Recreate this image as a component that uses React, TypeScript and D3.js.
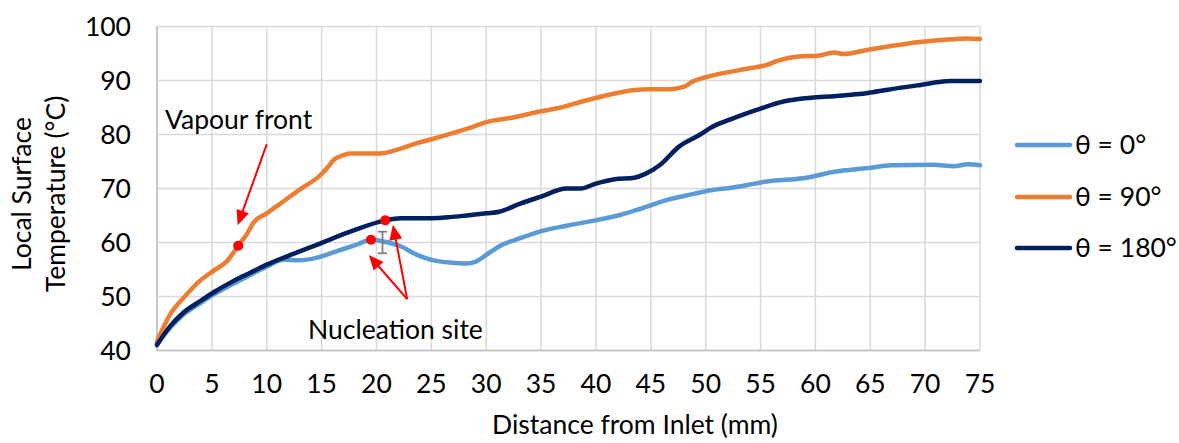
import React from "react";
import * as d3 from "d3";

// Distance from inlet (mm) and local surface temperature (°C) for each orientation
const distance0 = [0, 1.2, 2.4, 3.9, 5.1, 6.9, 8.5, 10, 11.5, 13, 14.6, 16.4, 18.2, 19.5, 20.6, 22.2, 23.7, 25.2, 26.7, 28.2, 29.1, 30, 31.2, 33.1, 35.2, 37.3, 39.7, 42.2, 44, 46.5, 48.9, 50, 52.5, 55.6, 59.2, 61.7, 64.8, 66.9, 70.8, 72.6, 73.9, 75];
const temp0 = [41.3, 44.2, 46.6, 48.7, 50.3, 52.3, 54.0, 55.5, 56.8, 56.7, 57.2, 58.4, 59.6, 60.5, 60.2, 59.3, 57.7, 56.7, 56.3, 56.1, 56.5, 57.7, 59.3, 60.8, 62.2, 63.1, 64.0, 65.1, 66.2, 67.9, 69.0, 69.5, 70.2, 71.3, 72.0, 73.1, 73.8, 74.3, 74.4, 74.1, 74.5, 74.3];

const distance90 = [0, 1.2, 2.4, 3.9, 5.1, 6.4, 7.4, 8.2, 8.8, 10, 11.5, 13, 14.9, 15.5, 16.1, 17, 17.6, 20.3, 22.2, 23.7, 25.5, 28.9, 30, 32.3, 35, 36.6, 38.9, 41.3, 43.3, 45, 46.7, 48.1, 48.8, 50, 51, 54.1, 55.6, 56.6, 58.7, 60.2, 61.7, 62.6, 64.8, 66.6, 69.3, 71.5, 73.9, 75];
const temp90 = [41.7, 46.7, 49.7, 52.9, 54.7, 56.6, 59.4, 61.6, 63.7, 65.4, 67.6, 69.8, 72.5, 73.8, 75.3, 76.2, 76.5, 76.5, 77.4, 78.4, 79.4, 81.5, 82.3, 83.1, 84.3, 84.9, 86.2, 87.4, 88.2, 88.4, 88.4, 88.9, 89.8, 90.6, 91.1, 92.3, 92.9, 93.7, 94.5, 94.6, 95.2, 94.9, 95.7, 96.3, 97.1, 97.5, 97.8, 97.7];

const distance180 = [0, 1.2, 2.4, 3.9, 5.1, 6.9, 8.5, 10, 11.8, 14.6, 17.6, 20.8, 22.2, 25, 26.7, 28.2, 30, 31.2, 33.1, 35, 37.3, 38.6, 40, 41.7, 43.5, 44.5, 45.8, 47.6, 49.5, 50.5, 52.5, 55, 57.1, 59.6, 61.7, 64.8, 66.6, 69.3, 72.3, 75];
const temp180 = [41.0, 44.5, 47.0, 49.1, 50.7, 52.8, 54.4, 55.9, 57.4, 59.6, 62.0, 64.1, 64.5, 64.5, 64.7, 65.0, 65.4, 65.7, 67.2, 68.5, 70.0, 70.0, 70.9, 71.7, 72.0, 72.7, 74.3, 77.8, 80.0, 81.3, 83.0, 84.8, 86.1, 86.8, 87.1, 87.7, 88.3, 89.1, 89.9, 89.9];

const seriesNames = ["θ = 0°", "θ = 90°", "θ = 180°"];
const seriesColors = ["#5b9bd5", "#ed7d31", "#002060"];

const xTicks = [0, 5, 10, 15, 20, 25, 30, 35, 40, 45, 50, 55, 60, 65, 70, 75];
const yTicks = [40, 50, 60, 70, 80, 90, 100];

// Marked points (distance, temperature)
const vapourFront = [7.4, 59.4];
const nucleation0 = [19.5, 60.5];
const nucleation180 = [20.8, 64.1];
// Error bar on θ = 0° near the nucleation site
const errorBar = { x: 20.55, low: 58.0, high: 62.0 };

const FONT = "Lato, 'Open Sans', sans-serif";
const FS = 26.5;

export default function App() {
  const width = 1179;
  const height = 443;
  const x = d3.scaleLinear().domain([0, 75]).range([157, 980]);
  const y = d3.scaleLinear().domain([40, 100]).range([350.5, 26.5]);

  const line = d3
    .line<[number, number]>()
    .x((d) => x(d[0]))
    .y((d) => y(d[1]))
    .curve(d3.curveMonotoneX);

  const series = [
    { xs: distance0, ys: temp0 },
    { xs: distance90, ys: temp90 },
    { xs: distance180, ys: temp180 },
  ];

  const arrowHead = (x1: number, y1: number, x2: number, y2: number, len = 15, half = 6.5) => {
    const a = Math.atan2(y2 - y1, x2 - x1);
    const bx = x2 - len * Math.cos(a);
    const by = y2 - len * Math.sin(a);
    const px = -Math.sin(a) * half;
    const py = Math.cos(a) * half;
    return `M${x2},${y2}L${bx + px},${by + py}L${bx - px},${by - py}Z`;
  };

  const arrow = (x1: number, y1: number, x2: number, y2: number, key: string) => {
    const a = Math.atan2(y2 - y1, x2 - x1);
    const ex = x2 - 12 * Math.cos(a);
    const ey = y2 - 12 * Math.sin(a);
    return (
      <g key={key}>
        <line x1={x1} y1={y1} x2={ex} y2={ey} stroke="#ff0000" strokeWidth={2} />
        <path d={arrowHead(x1, y1, x2, y2)} fill="#ff0000" />
      </g>
    );
  };

  // Arrow endpoints in data units
  const vfStart = [10, 78.2];
  const vfTip = [7.35, 63.2];
  const nucStart = [22.8, 49.5];
  const nucTip0 = [19.3, 57.7];
  const nucTip180 = [21.5, 63.3];

  const legendY = [145, 197, 248];

  return (
    <svg
      width={width}
      height={height}
      style={{ position: "absolute", left: 0, top: 0, background: "#fff" }}
      fontFamily={FONT}
    >
      {/* grid */}
      {xTicks.map((t) => (
        <line key={"gx" + t} x1={x(t)} x2={x(t)} y1={y(100)} y2={y(40)} stroke="#d9d9d9" strokeWidth={1.5} />
      ))}
      {yTicks.map((t) => (
        <line key={"gy" + t} x1={x(0)} x2={x(75)} y1={y(t)} y2={y(t)} stroke="#d9d9d9" strokeWidth={1.5} />
      ))}
      {/* axes */}
      <line x1={x(0)} x2={x(0)} y1={y(100)} y2={y(40)} stroke="#bfbfbf" strokeWidth={1.5} />
      <line x1={x(0)} x2={x(75)} y1={y(40)} y2={y(40)} stroke="#bfbfbf" strokeWidth={1.5} />

      {/* tick labels */}
      {yTicks.map((t) => (
        <text key={"ty" + t} x={131} y={y(t) + 9} textAnchor="end" fontSize={FS} fill="#000">
          {t}
        </text>
      ))}
      {xTicks.map((t) => (
        <text key={"tx" + t} x={x(t)} y={393} textAnchor="middle" fontSize={FS} fill="#000">
          {t}
        </text>
      ))}

      {/* axis titles */}
      <text x={635} y={434} textAnchor="middle" fontSize={FS} fill="#000">
        Distance from Inlet (mm)
      </text>
      <g transform="translate(22,194) rotate(-90)">
        <text x={0} y={9} textAnchor="middle" fontSize={FS} fill="#000">
          Local Surface
        </text>
        <text x={0} y={43} textAnchor="middle" fontSize={FS} fill="#000">
          Temperature (°C)
        </text>
      </g>

      {/* series */}
      {series.map((s, i) => (
        <path
          key={"s" + i}
          d={line(s.xs.map((v, j) => [v, s.ys[j]] as [number, number])) || ""}
          fill="none"
          stroke={seriesColors[i]}
          strokeWidth={4.5}
          strokeLinejoin="round"
          strokeLinecap="round"
        />
      ))}

      {/* error bar */}
      <g stroke="#7f7f7f" strokeWidth={1.8}>
        <line x1={x(errorBar.x)} x2={x(errorBar.x)} y1={y(errorBar.high)} y2={y(errorBar.low)} />
        <line x1={x(errorBar.x) - 4.5} x2={x(errorBar.x) + 4.5} y1={y(errorBar.high)} y2={y(errorBar.high)} />
        <line x1={x(errorBar.x) - 4.5} x2={x(errorBar.x) + 4.5} y1={y(errorBar.low)} y2={y(errorBar.low)} />
      </g>

      {/* annotations */}
      {arrow(x(vfStart[0]), y(vfStart[1]), x(vfTip[0]), y(vfTip[1]), "a1")}
      {arrow(x(nucStart[0]), y(nucStart[1]), x(nucTip0[0]), y(nucTip0[1]), "a2")}
      {arrow(x(nucStart[0]), y(nucStart[1]), x(nucTip180[0]), y(nucTip180[1]), "a3")}
      {[vapourFront, nucleation0, nucleation180].map((p, i) => (
        <circle key={"d" + i} cx={x(p[0])} cy={y(p[1])} r={5} fill="#ff0000" />
      ))}
      <text x={165} y={129} fontSize={FS} fill="#000">
        Vapour front
      </text>
      <text x={308} y={339} fontSize={FS} fill="#000">
        Nucleation site
      </text>

      {/* legend */}
      {seriesNames.map((n, i) => (
        <g key={"l" + i}>
          <line x1={1017} x2={1070} y1={legendY[i]} y2={legendY[i]} stroke={seriesColors[i]} strokeWidth={4.5} strokeLinecap="round" />
          <text x={1075} y={legendY[i] + 9} fontSize={FS} fill="#000">
            {n}
          </text>
        </g>
      ))}
    </svg>
  );
}
